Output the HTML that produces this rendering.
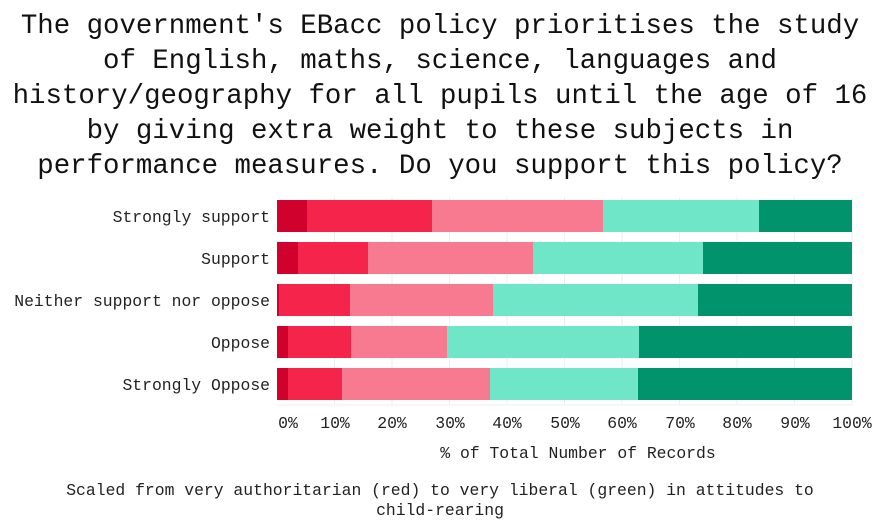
<!DOCTYPE html>
<html><head><meta charset="utf-8"><style>
body{margin:0;background:#fff;width:881px;height:522px;overflow:hidden;font-family:"Liberation Mono","DejaVu Sans Mono",monospace;color:#111}
</style></head><body>
<svg width="881" height="522" xmlns="http://www.w3.org/2000/svg" font-family="Liberation Mono, DejaVu Sans Mono, monospace">
<g font-size="27.4" text-anchor="middle" fill="#111">
<text x="440" y="33">The government's EBacc policy prioritises the study</text>
<text x="440" y="68">of English, maths, science, languages and</text>
<text x="440" y="103">history/geography for all pupils until the age of 16</text>
<text x="440" y="138">by giving extra weight to these subjects in</text>
<text x="440" y="173">performance measures. Do you support this policy?</text>
</g>
<g stroke="#eee" stroke-width="1">
<line x1="334.5" y1="197" x2="334.5" y2="404"/><line x1="392" y1="197" x2="392" y2="404"/>
<line x1="449.5" y1="197" x2="449.5" y2="404"/><line x1="507" y1="197" x2="507" y2="404"/>
<line x1="564.5" y1="197" x2="564.5" y2="404"/><line x1="622" y1="197" x2="622" y2="404"/>
<line x1="679.5" y1="197" x2="679.5" y2="404"/><line x1="737" y1="197" x2="737" y2="404"/>
<line x1="794.5" y1="197" x2="794.5" y2="404"/><line x1="852" y1="197" x2="852" y2="404"/>
<line x1="277" y1="405" x2="852" y2="405"/>
</g>
<g>
<rect x="277" y="200" width="30" height="32" fill="#d0022d"/><rect x="307" y="200" width="125" height="32" fill="#f5244a"/><rect x="432" y="200" width="171" height="32" fill="#f77a91"/><rect x="603" y="200" width="156" height="32" fill="#70e6c9"/><rect x="759" y="200" width="93" height="32" fill="#00936c"/>
<rect x="277" y="242" width="21" height="32" fill="#d0022d"/><rect x="298" y="242" width="70" height="32" fill="#f5244a"/><rect x="368" y="242" width="165" height="32" fill="#f77a91"/><rect x="533" y="242" width="170" height="32" fill="#70e6c9"/><rect x="703" y="242" width="149" height="32" fill="#00936c"/>
<rect x="277" y="284" width="2" height="32" fill="#d0022d"/><rect x="279" y="284" width="71" height="32" fill="#f5244a"/><rect x="350" y="284" width="143" height="32" fill="#f77a91"/><rect x="493" y="284" width="205" height="32" fill="#70e6c9"/><rect x="698" y="284" width="154" height="32" fill="#00936c"/>
<rect x="277" y="326" width="11" height="32" fill="#d0022d"/><rect x="288" y="326" width="63" height="32" fill="#f5244a"/><rect x="351" y="326" width="96" height="32" fill="#f77a91"/><rect x="447" y="326" width="192" height="32" fill="#70e6c9"/><rect x="639" y="326" width="213" height="32" fill="#00936c"/>
<rect x="277" y="368" width="11" height="32" fill="#d0022d"/><rect x="288" y="368" width="54" height="32" fill="#f5244a"/><rect x="342" y="368" width="148" height="32" fill="#f77a91"/><rect x="490" y="368" width="148" height="32" fill="#70e6c9"/><rect x="638" y="368" width="214" height="32" fill="#00936c"/>
</g>
<g font-size="16.4" text-anchor="end" fill="#222">
<text x="270" y="222">Strongly support</text>
<text x="270" y="264">Support</text>
<text x="270" y="306">Neither support nor oppose</text>
<text x="270" y="348">Oppose</text>
<text x="270" y="390">Strongly Oppose</text>
</g>
<g font-size="16.4" text-anchor="middle" fill="#222">
<text x="288" y="428">0%</text><text x="335" y="428">10%</text><text x="392" y="428">20%</text><text x="450" y="428">30%</text><text x="507" y="428">40%</text><text x="565" y="428">50%</text><text x="622" y="428">60%</text><text x="680" y="428">70%</text><text x="737" y="428">80%</text><text x="795" y="428">90%</text><text x="852" y="428">100%</text>
<text x="578" y="458">% of Total Number of Records</text>
<text x="440" y="495">Scaled from very authoritarian (red) to very liberal (green) in attitudes to</text>
<text x="440" y="515">child-rearing</text>
</g>
</svg>
</body></html>
